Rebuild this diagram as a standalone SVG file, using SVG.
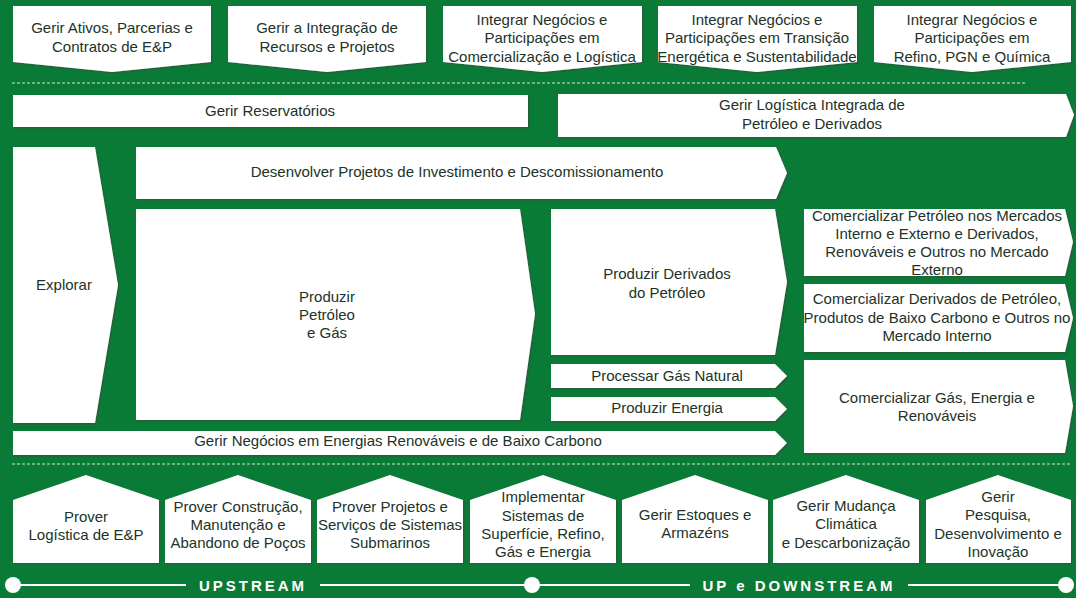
<svg xmlns="http://www.w3.org/2000/svg" width="1076" height="598" viewBox="0 0 1076 598">
<defs>
<filter id="sh" x="-5%" y="-5%" width="110%" height="120%">
<feDropShadow dx="1.5" dy="1.5" stdDeviation="0.7" flood-color="#3a4a40" flood-opacity="0.55"/>
</filter>
<style>
.b{fill:#ffffff;filter:url(#sh);}
.t{font-family:"Liberation Sans",Arial,sans-serif;font-size:15px;fill:#213328;text-anchor:middle;}
.d{stroke:#cfe6d6;stroke-width:1;stroke-dasharray:3 2;fill:none;}
.tl{stroke:#ffffff;stroke-width:2;fill:none;}
.lab{font-family:"Liberation Sans",Arial,sans-serif;font-size:15px;font-weight:bold;fill:#ffffff;letter-spacing:3px;text-anchor:middle;}
</style>
</defs>
<rect x="0" y="0" width="1076" height="598" fill="#0a7a37"/>

<g id="top1"><polygon class="b" points="13,6 211,6 211,62 112,72 13,62"/><text class="t" x="112"><tspan x="112" y="33">Gerir Ativos, Parcerias e</tspan><tspan x="112" y="52">Contratos de E&amp;P</tspan></text></g>
<g id="top2"><polygon class="b" points="228,6 426,6 426,62 327,72 228,62"/><text class="t"><tspan x="327" y="33">Gerir a Integração de</tspan><tspan x="327" y="52">Recursos e Projetos</tspan></text></g>
<g id="top3"><polygon class="b" points="443,6 642,6 642,62 542,72 443,62"/><text class="t"><tspan x="542" y="25">Integrar Negócios e</tspan><tspan x="542" y="43">Participações em</tspan><tspan x="542" y="62">Comercialização e Logística</tspan></text></g>
<g id="top4"><polygon class="b" points="658,6 857,6 857,62 757,72 658,62"/><text class="t"><tspan x="757" y="25">Integrar Negócios e</tspan><tspan x="757" y="43">Participações em Transição</tspan><tspan x="757" y="62">Energética e Sustentabilidade</tspan></text></g>
<g id="top5"><polygon class="b" points="874,6 1071,6 1071,62 972,72 874,62"/><text class="t"><tspan x="972" y="25">Integrar Negócios e</tspan><tspan x="972" y="43">Participações em</tspan><tspan x="972" y="62">Refino, PGN e Química</tspan></text></g>

<line class="d" x1="12" y1="83" x2="1026" y2="83"/>

<g id="reservatorios"><rect class="b" x="13" y="95" width="515" height="32"/><text class="t" x="270" y="116">Gerir Reservatórios</text></g>
<g id="logistica"><polygon class="b" points="558,94 1066,94 1074,115 1066,137 558,137"/><text class="t"><tspan x="812" y="110">Gerir Logística Integrada de</tspan><tspan x="812" y="129">Petróleo e Derivados</tspan></text></g>

<g id="explorar"><polygon class="b" points="13,147 95,147 118,285 95,423 13,423"/><text class="t" x="64" y="290">Explorar</text></g>
<g id="desenvolver"><polygon class="b" points="136,147 776,147 787,173 776,199 136,199"/><text class="t" x="457" y="177">Desenvolver Projetos de Investimento e Descomissionamento</text></g>
<g id="produzirpg"><polygon class="b" points="136,209 520,209 535,314 520,420 136,420"/><text class="t"><tspan x="327" y="302">Produzir</tspan><tspan x="327" y="320">Petróleo</tspan><tspan x="327" y="338">e Gás</tspan></text></g>
<g id="derivados"><polygon class="b" points="551,209 775,209 787,282 775,355 551,355"/><text class="t"><tspan x="667" y="279">Produzir Derivados</tspan><tspan x="667" y="298">do Petróleo</tspan></text></g>
<g id="gasnatural"><polygon class="b" points="551,364 775,364 787,376 775,388 551,388"/><text class="t" x="667" y="381">Processar Gás Natural</text></g>
<g id="energia"><polygon class="b" points="551,397 775,397 787,409 775,421 551,421"/><text class="t" x="667" y="413">Produzir Energia</text></g>
<g id="renovaveis"><polygon class="b" points="13,431 775,431 787,443 775,455 13,455"/><text class="t" x="398" y="446">Gerir Negócios em Energias Renováveis e de Baixo Carbono</text></g>

<g id="comA"><polygon class="b" points="804,209 1065,209 1073,242 1065,276 804,276"/><text class="t"><tspan x="937" y="221">Comercializar Petróleo nos Mercados</tspan><tspan x="937" y="239">Interno e Externo e Derivados,</tspan><tspan x="937" y="257">Renováveis e Outros no Mercado</tspan><tspan x="937" y="275">Externo</tspan></text></g>
<g id="comB"><polygon class="b" points="804,284 1065,284 1073,318 1065,352 804,352"/><text class="t"><tspan x="937" y="304">Comercializar Derivados de Petróleo,</tspan><tspan x="937" y="323">Produtos de Baixo Carbono e Outros no</tspan><tspan x="937" y="341">Mercado Interno</tspan></text></g>
<g id="comC"><polygon class="b" points="804,360 1065,360 1073,406 1065,453 804,453"/><text class="t"><tspan x="937" y="403">Comercializar Gás, Energia e</tspan><tspan x="937" y="421">Renováveis</tspan></text></g>

<line class="d" x1="12" y1="464" x2="1071" y2="464"/>

<g id="sup1"><polygon class="b" points="13,500 86,475 159,500 159,563 13,563"/><text class="t"><tspan x="86" y="522">Prover</tspan><tspan x="86" y="540">Logística de E&amp;P</tspan></text></g>
<g id="sup2"><polygon class="b" points="165,500 238,475 311,500 311,563 165,563"/><text class="t"><tspan x="238" y="512">Prover Construção,</tspan><tspan x="238" y="530">Manutenção e</tspan><tspan x="238" y="548">Abandono de Poços</tspan></text></g>
<g id="sup3"><polygon class="b" points="317,500 390,475 463,500 463,563 317,563"/><text class="t"><tspan x="390" y="512">Prover Projetos e</tspan><tspan x="390" y="530">Serviços de Sistemas</tspan><tspan x="390" y="548">Submarinos</tspan></text></g>
<g id="sup4"><polygon class="b" points="470,500 543,475 616,500 616,563 470,563"/><text class="t"><tspan x="543" y="502">Implementar</tspan><tspan x="543" y="521">Sistemas de</tspan><tspan x="543" y="539">Superfície, Refino,</tspan><tspan x="543" y="557">Gás e Energia</tspan></text></g>
<g id="sup5"><polygon class="b" points="622,500 695,475 768,500 768,563 622,563"/><text class="t"><tspan x="695" y="520">Gerir Estoques e</tspan><tspan x="695" y="538">Armazéns</tspan></text></g>
<g id="sup6"><polygon class="b" points="773,500 846,475 919,500 919,563 773,563"/><text class="t"><tspan x="846" y="511">Gerir Mudança</tspan><tspan x="846" y="529">Climática</tspan><tspan x="846" y="548">e Descarbonização</tspan></text></g>
<g id="sup7"><polygon class="b" points="926,500 998,475 1071,500 1071,563 926,563"/><text class="t"><tspan x="998" y="502">Gerir</tspan><tspan x="998" y="520">Pesquisa,</tspan><tspan x="998" y="539">Desenvolvimento e</tspan><tspan x="998" y="557">Inovação</tspan></text></g>

<g id="timeline">
<line class="tl" x1="13" y1="585" x2="186" y2="585"/>
<line class="tl" x1="320" y1="585" x2="690" y2="585"/>
<line class="tl" x1="908" y1="585" x2="1066" y2="585"/>
<circle cx="13" cy="585" r="8" fill="#ffffff"/>
<circle cx="532" cy="585" r="8" fill="#ffffff"/>
<circle cx="1066" cy="585" r="8" fill="#ffffff"/>
<text class="lab" x="253" y="591">UPSTREAM</text>
<text class="lab" x="799" y="591">UP e DOWNSTREAM</text>
</g>
</svg>
